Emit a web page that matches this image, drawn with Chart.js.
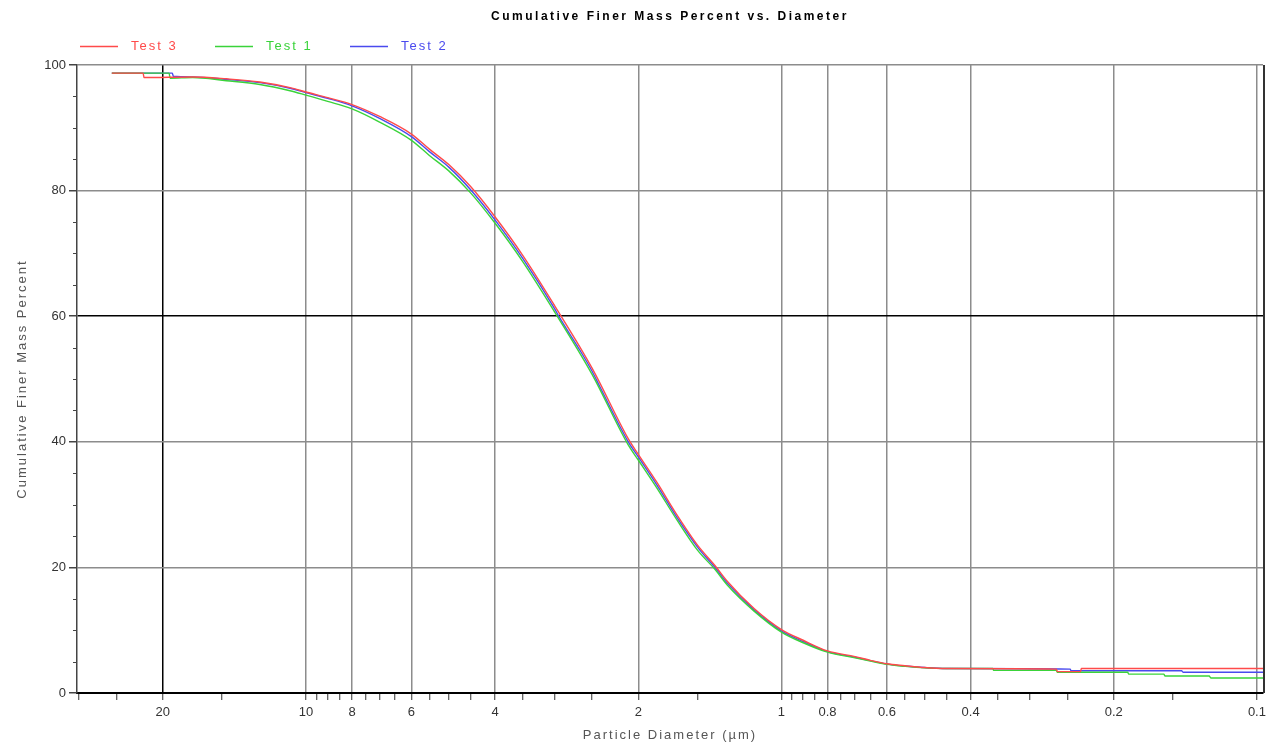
<!DOCTYPE html>
<html>
<head>
<meta charset="utf-8">
<script src="https://cdn.jsdelivr.net/npm/chart.js@4.4.1/dist/chart.umd.min.js"></script>
<style>
html, body { margin: 0; padding: 0; background: #fff; }
</style>
</head>
<body>
<canvas id="chart1" width="1270" height="745"></canvas>
<script>
const chartTitle = "Cumulative Finer Mass Percent vs. Diameter";
const xTitle = "Particle Diameter (µm)";
const yTitle = "Cumulative Finer Mass Percent";

// x ticks (µm), only some of them get a label and a grid line
const xTickValues = [30, 25, 20, 15, 10, 9.5, 9, 8.5, 8, 7.5, 7, 6.5, 6, 5.5, 5, 4.5, 4, 3.5, 3, 2.5, 2, 1.5,
  1, 0.95, 0.9, 0.85, 0.8, 0.75, 0.7, 0.65, 0.6, 0.55, 0.5, 0.45, 0.4, 0.35, 0.3, 0.25, 0.2, 0.15, 0.1];
const xTickLabels = [20, 10, 8, 6, 4, 2, 1, 0.8, 0.6, 0.4, 0.2, 0.1];
const yTickLabels = [0, 20, 40, 60, 80, 100];
const yMinorTicks = [5, 10, 15, 25, 30, 35, 45, 50, 55, 65, 70, 75, 85, 90, 95];

// Test 3 (red)
const test3Diameter = [25.6, 22.0, 21.9, 17.3, 14.7, 12.5, 10.8, 10, 9, 8, 7, 6, 5.5, 5, 4.5, 4, 3.5, 3, 2.5, 2.1, 2,
  1.83, 1.66, 1.5, 1.38, 1.3, 1.14, 1, 0.9, 0.8, 0.7, 0.65, 0.6, 0.55, 0.5, 0.45, 0.264, 0.263, 0.235, 0.234, 0.097];
const test3Percent = [98.7, 98.7, 98.0, 98.1, 97.8, 97.3, 96.4, 95.7, 94.8, 93.7, 91.8, 89.0, 86.6, 84.1, 80.6, 75.8, 69.7, 61.7, 51.7, 40.5, 38.0,
  33.6, 28.4, 23.5, 20.3, 17.8, 13.4, 10.1, 8.4, 6.7, 5.8, 5.2, 4.65, 4.35, 4.05, 3.9, 3.8, 3.4, 3.4, 3.9, 3.9];

// Test 1 (green)
const test1Diameter = [25.6, 19.4, 19.3, 17.3, 14.7, 12.5, 10.8, 10, 9, 8, 7, 6, 5.5, 5, 4.5, 4, 3.5, 3, 2.5, 2.1, 2,
  1.83, 1.66, 1.5, 1.38, 1.3, 1.14, 1, 0.9, 0.8, 0.7, 0.65, 0.6, 0.55, 0.5, 0.45, 0.359, 0.358, 0.264, 0.263,
  0.187, 0.186, 0.157, 0.156, 0.126, 0.125, 0.097];
const test1Percent = [98.7, 98.7, 97.9, 98.0, 97.5, 96.9, 95.9, 95.2, 94.2, 93.0, 90.9, 88.0, 85.6, 83.1, 79.6, 74.8, 68.7, 60.7, 50.7, 39.5, 37.1,
  32.7, 27.6, 22.7, 19.7, 17.2, 13.0, 9.7, 8.0, 6.5, 5.6, 5.1, 4.55, 4.25, 4.0, 3.9, 3.9, 3.6, 3.6, 3.3,
  3.3, 3.0, 3.0, 2.7, 2.7, 2.4, 2.4];

// Test 2 (blue)
const test2Diameter = [25.6, 19.1, 19.0, 17.3, 14.7, 12.5, 10.8, 10, 9, 8, 7, 6, 5.5, 5, 4.5, 4, 3.5, 3, 2.94, 2.63, 2.5, 2.41, 2.1, 2,
  1.83, 1.66, 1.5, 1.38, 1.3, 1.14, 1, 0.9, 0.8, 0.7, 0.65, 0.6, 0.55, 0.5, 0.45, 0.247, 0.246, 0.144, 0.143, 0.097];
const test2Percent = [98.7, 98.7, 98.2, 98.1, 97.7, 97.2, 96.3, 95.6, 94.7, 93.5, 91.5, 88.6, 86.2, 83.7, 80.1, 75.3, 69.2, 61.2, 60.0, 54.1, 51.2, 48.8, 40.0, 37.6,
  33.2, 28.0, 23.2, 20.0, 17.5, 13.2, 9.9, 8.2, 6.6, 5.7, 5.15, 4.6, 4.3, 4.05, 3.9, 3.8, 3.55, 3.55, 3.3, 3.3];

const seriesNames = ["Test 3", "Test 1", "Test 2"];
const seriesColors = ["#ff4a4a", "#3ad33a", "#4a4aee"];

function toPoints(d, p) {
    return d.map(function(v, i) { return { x: v, y: p[i] }; });
}

const tickFont = { family: "'Liberation Sans', Arial, sans-serif", size: 13 };

// draws title, legend, axis titles, right border and the small y ticks
const framePlugin = {
    id: "frame",
    afterDraw: function(chart) {
	const ctx = chart.ctx;
	const area = chart.chartArea;
	const ys = chart.scales.y;
	ctx.save();
	// right border
	ctx.strokeStyle = "#333";
	ctx.lineWidth = 2;
	ctx.beginPath();
	ctx.moveTo(area.right + 1, area.top);
	ctx.lineTo(area.right + 1, area.bottom);
	ctx.stroke();
	// minor y ticks
	ctx.lineWidth = 1;
	ctx.strokeStyle = "#444";
	yMinorTicks.forEach(function(v) {
	    const y = Math.round(ys.getPixelForValue(v)) + 0.5;
	    ctx.beginPath();
	    ctx.moveTo(area.left - 4, y);
	    ctx.lineTo(area.left, y);
	    ctx.stroke();
	});
	const cx = (area.left + area.right) / 2;
	// title
	ctx.letterSpacing = "2.5px";
	ctx.fillStyle = "#000";
	ctx.font = "bold 12px 'Liberation Sans', Arial, sans-serif";
	ctx.textAlign = "center";
	ctx.textBaseline = "middle";
	ctx.fillText(chartTitle, cx, 17);
	// axis titles
	ctx.letterSpacing = "2px";
	ctx.font = "13px 'Liberation Sans', Arial, sans-serif";
	ctx.fillStyle = "#555";
	ctx.fillText(xTitle, cx, 735);
	ctx.save();
	ctx.translate(22, (area.top + area.bottom) / 2);
	ctx.rotate(-Math.PI / 2);
	ctx.fillText(yTitle, 0, 0);
	ctx.restore();
	// legend
	ctx.textAlign = "left";
	chart.data.datasets.forEach(function(ds, i) {
	    const x0 = 80 + i * 135;
	    ctx.strokeStyle = ds.borderColor;
	    ctx.lineWidth = 1.3;
	    ctx.beginPath();
	    ctx.moveTo(x0, 46.5);
	    ctx.lineTo(x0 + 38, 46.5);
	    ctx.stroke();
	    ctx.fillStyle = ds.borderColor;
	    ctx.fillText(ds.label, x0 + 51, 46);
	});
	ctx.restore();
    }
};

new Chart(document.getElementById("chart1"), {
    type: "line",
    data: {
	datasets: [{
	    label: seriesNames[0],
	    data: toPoints(test3Diameter, test3Percent),
	    borderColor: seriesColors[0]
	}, {
	    label: seriesNames[1],
	    data: toPoints(test1Diameter, test1Percent),
	    borderColor: seriesColors[1]
	}, {
	    label: seriesNames[2],
	    data: toPoints(test2Diameter, test2Percent),
	    borderColor: seriesColors[2]
	}]
    },
    options: {
	responsive: false,
	animation: false,
	layout: { padding: { top: 65, right: 7, left: 0, bottom: 0 } },
	elements: {
	    point: { radius: 0 },
	    line: { cubicInterpolationMode: "monotone", borderWidth: 1.4, fill: false }
	},
	plugins: {
	    legend: { display: false },
	    title: { display: false },
	    tooltip: { enabled: false }
	},
	scales: {
	    x: {
		type: "logarithmic",
		reverse: true,
		min: 0.0971,
		max: 30.3,
		afterBuildTicks: function(scale) {
		    scale.ticks = xTickValues.map(function(v) { return { value: v }; });
		},
		afterFit: function(scale) {
		    scale.height = 52;
		    scale.paddingLeft = 0;
		    scale.paddingRight = 0;
		},
		border: { color: "#000", width: 2 },
		grid: {
		    color: function(c) {
			const v = c.tick ? c.tick.value : null;
			if (v === 20) return "#000";
			return xTickLabels.indexOf(v) >= 0 ? "#8c8c8c" : "rgba(0,0,0,0)";
		    },
		    lineWidth: 1.5,
		    tickLength: 7,
		    tickColor: "#333",
		    tickWidth: 1
		},
		ticks: {
		    autoSkip: false,
		    maxRotation: 0,
		    padding: 5,
		    color: "#333",
		    font: tickFont,
		    callback: function(value) {
			return xTickLabels.indexOf(value) >= 0 ? String(value) : "";
		    }
		}
	    },
	    y: {
		min: 0,
		max: 100,
		afterBuildTicks: function(scale) {
		    scale.ticks = yTickLabels.map(function(v) { return { value: v }; });
		},
		afterFit: function(scale) {
		    scale.width = 77;
		    scale.paddingTop = 0;
		    scale.paddingBottom = 0;
		},
		border: { color: "#444", width: 1.5 },
		grid: {
		    color: function(c) {
			return (c.tick && c.tick.value === 60) ? "#000" : "#8c8c8c";
		    },
		    lineWidth: 1.5,
		    tickLength: 8,
		    tickColor: "#444"
		},
		ticks: {
		    padding: 3,
		    color: "#333",
		    font: tickFont
		}
	    }
	}
    },
    plugins: [framePlugin]
});
</script>
</body>
</html>
